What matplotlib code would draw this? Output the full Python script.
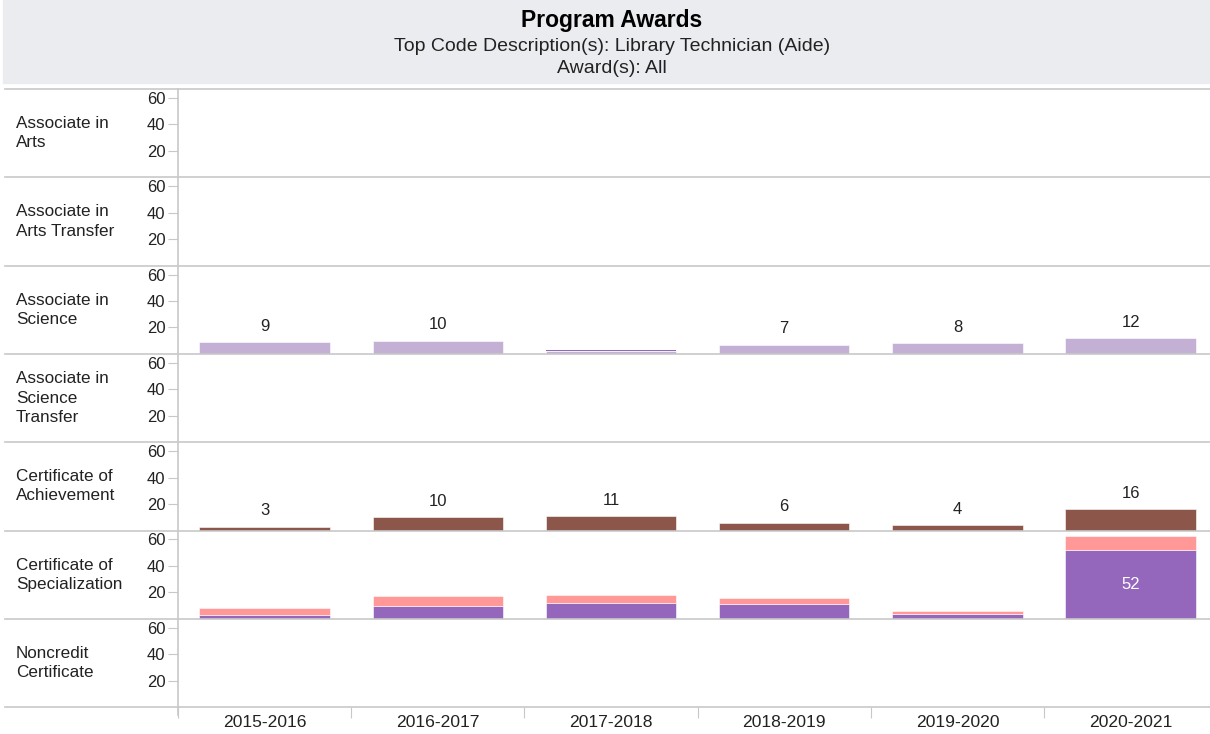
import numpy as np
import matplotlib.pyplot as plt
from matplotlib.lines import Line2D
from matplotlib.patches import Rectangle

plt.rcParams['font.family'] = ['Liberation Sans', 'DejaVu Sans']

years = ['2015-2016', '2016-2017', '2017-2018', '2018-2019', '2019-2020', '2020-2021']
award_types = ['Associate in\nArts', 'Associate in\nArts Transfer', 'Associate in\nScience',
               'Associate in\nScience\nTransfer', 'Certificate of\nAchievement',
               'Certificate of\nSpecialization', 'Noncredit\nCertificate']

# Associate in Science (light purple + thin dark segment in 2017-2018)
assoc_science = [9, 10, 2, 7, 8, 12]
assoc_science_top = [0, 0, 1, 0, 0, 0]
assoc_science_labels = ['9', '10', '', '7', '8', '12']

# Certificate of Achievement
cert_achievement = [3, 10, 11, 6, 4, 16]

# Certificate of Specialization, stacked
cert_spec_lower = [3, 10, 12, 11, 4, 52]
cert_spec_upper = [5, 7, 6, 5, 2, 11]

W, H = 1210, 734
fig = plt.figure(figsize=(W / 100, H / 100), dpi=100)

grid_col = '#c8c8c8'
text_col = '#222222'

# header band
fig.add_artist(Rectangle((3 / W, 1 - 83 / H), (W - 3) / W, 83 / H,
                         transform=fig.transFigure, color='#ebecf0', zorder=0))
fig.text(612 / W, 1 - 20 / H, 'Program Awards', ha='center', va='center',
         fontsize=16.5, fontweight='bold', color='black')
fig.text(612 / W, 1 - 46.5 / H, 'Top Code Description(s): Library Technician (Aide)',
         ha='center', va='center', fontsize=14, color=text_col)
fig.text(612 / W, 1 - 68.5 / H, 'Award(s): All', ha='center', va='center',
         fontsize=14, color=text_col)

top0 = 89
step = 88.3
left = 178
band = 173.2
x = np.arange(len(years))
bar_w = 0.752
ymax = 66.8

axes = []
for i, name in enumerate(award_types):
    top = top0 + i * step
    bottom = top + step
    ax = fig.add_axes([left / W, 1 - bottom / H, 6 * band / W, step / H])
    ax.set_xlim(-0.5, 5.5)
    ax.set_ylim(0, ymax)
    for s in ax.spines.values():
        s.set_visible(False)
    ax.set_xticks([])
    ax.set_yticks([20, 40, 60])
    ax.tick_params(axis='y', length=7, color=grid_col, labelsize=12, labelcolor=text_col, pad=2)
    ax.patch.set_alpha(0)
    fig.text(16 / W, 1 - (top + step / 2) / H, name, ha='left', va='center',
             fontsize=12.3, color=text_col, linespacing=1.35)
    fig.add_artist(Line2D([5 / W, 1], [1 - top / H, 1 - top / H],
                          transform=fig.transFigure, color=grid_col, lw=1.2))
    axes.append(ax)

# bottom line and vertical axis line
bottom_y = top0 + len(award_types) * step
fig.add_artist(Line2D([5 / W, 1], [1 - bottom_y / H, 1 - bottom_y / H],
                      transform=fig.transFigure, color=grid_col, lw=1.2))
fig.add_artist(Line2D([left / W, left / W], [1 - top0 / H, 1 - (bottom_y + 8) / H],
                      transform=fig.transFigure, color=grid_col, lw=1.2))

# Associate in Science
ax = axes[2]
ax.bar(x, assoc_science, bar_w, color='#c5b0d5', edgecolor='white', linewidth=0.4)
ax.bar(x, assoc_science_top, bar_w, bottom=assoc_science, color='#9467bd',
       edgecolor='none')
for xi, v, lab in zip(x, assoc_science, assoc_science_labels):
    ax.annotate(lab, (xi, v), xytext=(0, 6), textcoords='offset points',
                ha='center', va='bottom', fontsize=12, color=text_col)

# Certificate of Achievement
ax = axes[4]
ax.bar(x, cert_achievement, bar_w, color='#8c564b', edgecolor='white', linewidth=0.4)
for xi, v in zip(x, cert_achievement):
    ax.annotate(str(v), (xi, v), xytext=(0, 6), textcoords='offset points',
                ha='center', va='bottom', fontsize=12, color=text_col)

# Certificate of Specialization
ax = axes[5]
ax.bar(x, cert_spec_lower, bar_w, color='#9467bd', edgecolor='white', linewidth=0.4)
ax.bar(x, cert_spec_upper, bar_w, bottom=cert_spec_lower, color='#ff9896',
       edgecolor='white', linewidth=0.4)
ax.text(x[-1], cert_spec_lower[-1] / 2, str(cert_spec_lower[-1]), ha='center', va='center',
        fontsize=12, color='white')

# x axis on the last panel
ax = axes[-1]
ax.set_xticks(np.arange(-0.5, 6, 1))
ax.set_xticklabels([])
ax.tick_params(axis='x', length=8, color=grid_col)
ax.set_xticks(x, minor=True)
ax.set_xticklabels(years, minor=True)
ax.tick_params(axis='x', which='minor', length=0, labelsize=12.6, labelcolor=text_col, pad=6)

fig.savefig('out.png', dpi=100)
